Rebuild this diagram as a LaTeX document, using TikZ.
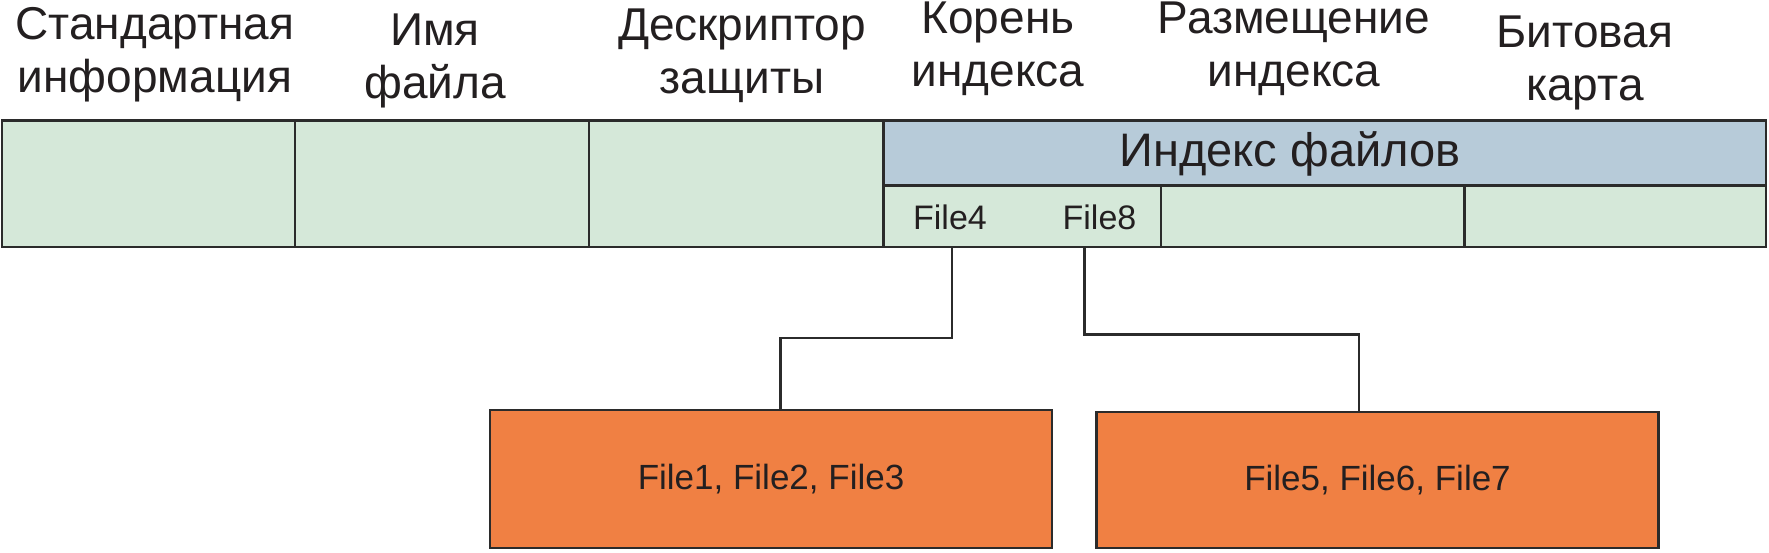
\documentclass[tikz,border=0pt]{standalone}
\usepackage{fontspec}
\setmainfont{Liberation Sans}
\definecolor{cg}{HTML}{D5E8D9}
\definecolor{hb}{HTML}{B7CBD9}
\definecolor{og}{HTML}{F08043}
\definecolor{ln}{HTML}{2B2B2B}
\definecolor{txt}{HTML}{231F20}
\begin{document}
\begin{tikzpicture}[x=1pt,y=-1pt,
  every node/.style={inner sep=0pt, outer sep=0pt, text=txt},
  cell/.style={draw=ln, line width=2.3pt, fill=cg, anchor=north west},
  hdr/.style={draw=ln, line width=2.3pt, fill=hb, anchor=north west},
  lbl/.style={font=\fontsize{46}{53}\selectfont, align=center, anchor=base},
  ftxt/.style={font=\fontsize{34}{40}\selectfont, anchor=base},
  fbox/.style={draw=ln, line width=2.3pt, fill=og, anchor=north west, font=\fontsize{35}{42}\selectfont},
  conn/.style={draw=ln, line width=2.2pt}]
\useasboundingbox (0,0) rectangle (1769,552);
% top row
\node[cell, minimum width=293, minimum height=126.5] (std) at (2,120.5) {};
\node[cell, minimum width=294, minimum height=126.5] (name) at (295,120.5) {};
\node[cell, minimum width=294.5, minimum height=126.5] (sec) at (589,120.5) {};
\node[hdr, minimum width=882.5, minimum height=65] (hdr) at (883.5,120.5) {};
\node[cell, minimum width=277.5, minimum height=61.5] (root) at (883.5,185.5) {};
\node[cell, minimum width=303.5, minimum height=61.5] (alloc) at (1161,185.5) {};
\node[cell, minimum width=301.5, minimum height=61.5] (bmp) at (1464.5,185.5) {};
% texts
\node[font=\fontsize{47}{52}\selectfont, anchor=base] (hdrt) at (1290,166.5) {Индекс файлов};
\node[ftxt] (f4) at (950,229) {File4};
\node[ftxt] (f8) at (1099.5,229) {File8};
% labels (anchor = baseline of the last line)
\node[lbl] (l1) at (155,92) {Стандартная\\информация};
\node[lbl] (l2) at (435,98) {Имя\\файла};
\node[lbl] (l3) at (742,93) {Дескриптор\\защиты};
\node[lbl] (l4) at (998,86) {Корень\\индекса};
\node[lbl] (l5) at (1294,86) {Размещение\\индекса};
\node[lbl] (l6) at (1585,100) {Битовая\\карта};
% leaf boxes
\node[fbox, minimum width=561.5, minimum height=138] (b1) at (490.3,410.3) {File1, File2, File3};
\node[fbox, minimum width=562, minimum height=136.6] (b2) at (1096.5,411.7) {File5, File6, File7};
% connectors
\coordinate (c4) at ([xshift=2]f4.base);
\coordinate (c8) at ([xshift=-15]f8.base);
\draw[conn] (c4 |- root.south) -- ++(0,91) -| ([xshift=9.5]b1.north);
\draw[conn] (c8 |- root.south) -- ++(0,87.5) -| ([xshift=-18.8]b2.north);
\end{tikzpicture}
\end{document}
